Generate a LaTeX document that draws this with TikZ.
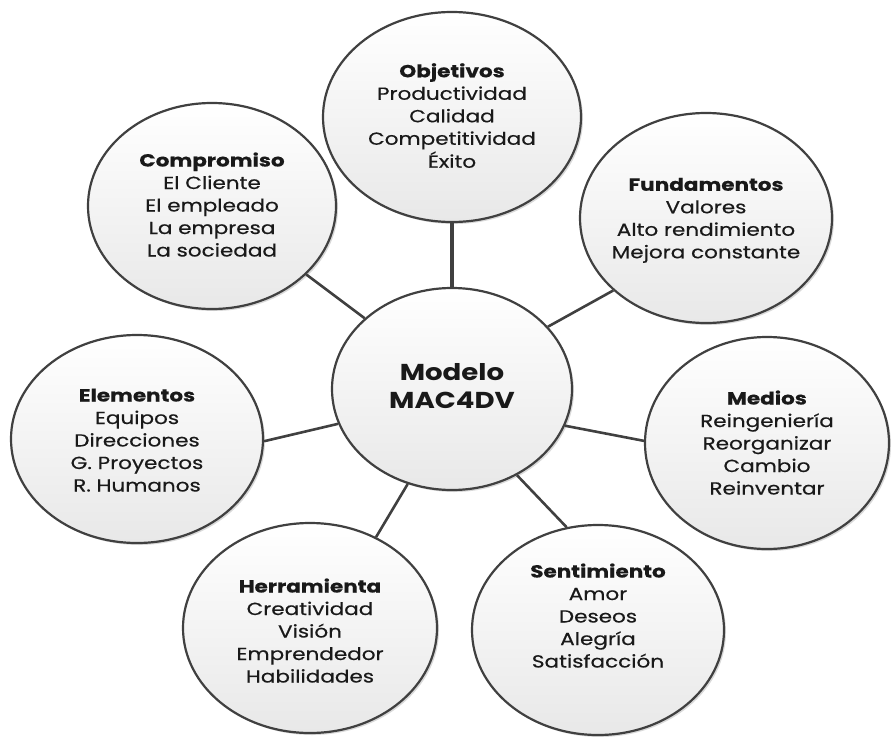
\documentclass[tikz,border=0pt]{standalone}
\usepackage{fontspec}
\usepackage{graphicx}
\setmainfont{Poppins}
\newfontfamily\itemfont{Poppins}[FakeBold=0.4]
\usetikzlibrary{shapes.geometric,shadows}

% stretched centred block of lines
\newcommand{\wideblock}[2][1.23]{\scalebox{#1}[1]{\begin{tabular}{@{}c@{}}#2\end{tabular}}}

\tikzset{
  bubble/.style={ellipse, draw=black!75, line width=2.2pt, inner sep=0pt,
    shading=axis, top color=white, bottom color=black!9,
    drop shadow={shadow xshift=2pt, shadow yshift=-2pt, opacity=0.25, fill=black!60}},
  txt/.style={align=center, inner sep=0pt, text=black!90,
    font=\itemfont\fontsize{17.5}{22.5}\selectfont},
  bigtxt/.style={align=center, inner sep=0pt, text=black!90,
    font=\fontsize{23}{28}\selectfont\bfseries},
  spoke/.style={draw=black!75, line width=2.6pt},
}

\begin{document}
\begin{tikzpicture}[x=1pt, y=-1pt]
\useasboundingbox (0,0) rectangle (891,736);

% outer bubbles
\node[bubble, minimum width=258pt, minimum height=210pt] (obj) at (452,117) {};
\node[bubble, minimum width=252pt, minimum height=210pt] (fun) at (706,218) {};
\node[bubble, minimum width=244pt, minimum height=212pt] (med) at (767,443) {};
\node[bubble, minimum width=252pt, minimum height=210pt] (sen) at (598,630) {};
\node[bubble, minimum width=254pt, minimum height=210pt] (her) at (310,628) {};
\node[bubble, minimum width=252pt, minimum height=208pt] (ele) at (137,439) {};
\node[bubble, minimum width=248pt, minimum height=206pt] (com) at (212,206) {};
% centre bubble
\node[bubble, minimum width=240pt, minimum height=202pt] (c) at (452,389) {};

% spokes
\draw[spoke, line width=3.4pt] (c.90) -- (obj.270);
\draw[spoke] (c.33) -- (fun.218);
\draw[spoke] (c.-18.6) -- (med.179);
\draw[spoke] (c.-53) -- (sen.107.6);
\draw[spoke] (c.245.6) -- (her.54.6);
\draw[spoke] (c.197.5) -- (ele.-1);
\draw[spoke] (c.141) -- (com.-36.8);

% texts
\node[bigtxt] (c-t) at (c) {\wideblock[1.2]{Modelo\\MAC4DV}};
\node[txt] (obj-t) at ([yshift=-1pt]obj) {\wideblock{\textbf{Objetivos}\\Productividad\\Calidad\\Competitividad\\Éxito}};
\node[txt] (fun-t) at ([yshift=-2pt]fun) {\wideblock{\textbf{Fundamentos}\\Valores\\Alto rendimiento\\Mejora constante}};
\node[txt] (med-t) at ([yshift=-2pt]med) {\wideblock{\textbf{Medios}\\Reingeniería\\Reorganizar\\Cambio\\Reinventar}};
\node[txt] (sen-t) at ([yshift=12pt]sen) {\wideblock{\textbf{Sentimiento}\\Amor\\Deseos\\Alegría\\Satisfacción}};
\node[txt] (her-t) at ([yshift=-5pt]her) {\wideblock{\textbf{Herramienta}\\Creatividad\\Visión\\Emprendedor\\Habilidades}};
\node[txt] (ele-t) at ([yshift=-3pt]ele) {\wideblock{\textbf{Elementos}\\Equipos\\Direcciones\\G. Proyectos\\R. Humanos}};
\node[txt] (com-t) at ([yshift=-1pt]com) {\wideblock{\textbf{Compromiso}\\El Cliente\\El empleado\\La empresa\\La sociedad}};
\end{tikzpicture}
\end{document}
